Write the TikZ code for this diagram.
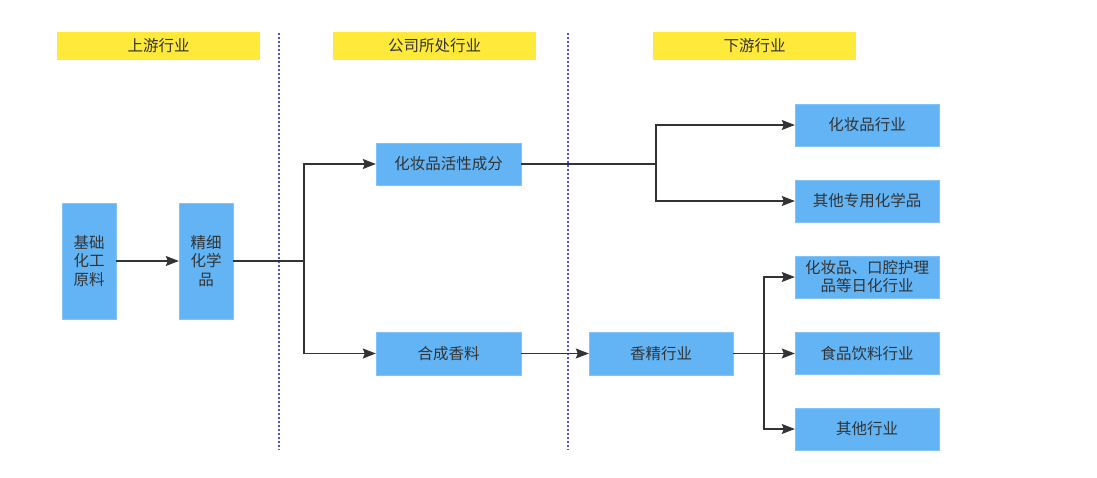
\documentclass[tikz,border=0pt]{standalone}
\usepackage{fontspec}
\setmainfont{Noto Sans CJK SC}
\usetikzlibrary{arrows.meta}
\definecolor{hdr}{HTML}{FFE93B}
\definecolor{boxblue}{HTML}{63B4F5}
\definecolor{sep}{HTML}{4B4BFF}
\definecolor{ink}{HTML}{333333}
\tikzset{
  header/.style={fill=hdr, draw=none, minimum width=203pt, minimum height=28pt, inner sep=0pt, text=ink, font=\fontsize{15.5}{18}\selectfont},
  bbox/.style={fill=boxblue, draw=boxblue!80!white, line width=0.4pt, inner sep=0pt, text=ink, align=center, font=\fontsize{15.5}{18.5}\selectfont},
  tall/.style={bbox, minimum width=54pt, minimum height=116pt},
  wide/.style={bbox, minimum width=144pt, minimum height=42pt},
  conn/.style={draw=ink, line width=1.1pt},
  arr/.style={conn, -{Stealth[length=13pt,width=10pt,inset=2pt]}},
  sepline/.style={draw=sep, line width=1.2pt, dash pattern=on 2pt off 2pt},
}
\begin{document}
\begin{tikzpicture}[x=1pt,y=-1pt]
\useasboundingbox (0,0) rectangle (1097,478);
% headers
\node[header] (h1) at (158.5,46) {上游行业};
\node[header] (h2) at (434.5,46) {公司所处行业};
\node[header] (h3) at (754.5,46) {下游行业};
% separators
\coordinate (s1t) at (279,33); \coordinate (s1b) at (279,450);
\coordinate (s2t) at (568,33); \coordinate (s2b) at (568,450);
\draw[sepline] (s1t) -- (s1b);
\draw[sepline] (s2t) -- (s2b);
% nodes
\node[tall] (a) at (89,261) {基础\\化工\\原料};
\node[tall] (b) at (206,261) {精细\\化学\\品};
\node[wide, minimum width=145pt] (c) at (448.5,164) {化妆品活性成分};
\node[wide, minimum width=145pt, minimum height=43pt] (d) at (448.5,353.5) {合成香料};
\node[wide, minimum height=43pt] (e) at (661,353.5) {香精行业};
\node[wide] (f) at (867,125) {化妆品行业};
\node[wide] (g) at (867,201) {其他专用化学品};
\node[wide, font=\fontsize{15.5}{18}\selectfont] (h) at (867,277) {化妆品、口腔护理\\品等日化行业};
\node[wide] (i) at (867,353.5) {食品饮料行业};
\node[wide] (j) at (867,429) {其他行业};
% connectors
\draw[arr] (a.east) -- (b.west);
\coordinate (j1) at (304,261);
\draw[conn] (b.east) -- (j1);
\draw[arr] (j1) |- (c.west);
\draw[arr] (j1) |- (d.west);
\coordinate (j2) at (656,164);
\draw[conn] (c.east) -- (j2);
\draw[arr] (j2) |- (f.west);
\draw[arr] (j2) |- (g.west);
\draw[arr] (d.east) -- (e.west);
\coordinate (j3) at (764,353.5);
\draw[arr] (e.east) -- (i.west);
\draw[arr] (j3) |- (h.west);
\draw[arr] (j3) |- (j.west);
\end{tikzpicture}
\end{document}
